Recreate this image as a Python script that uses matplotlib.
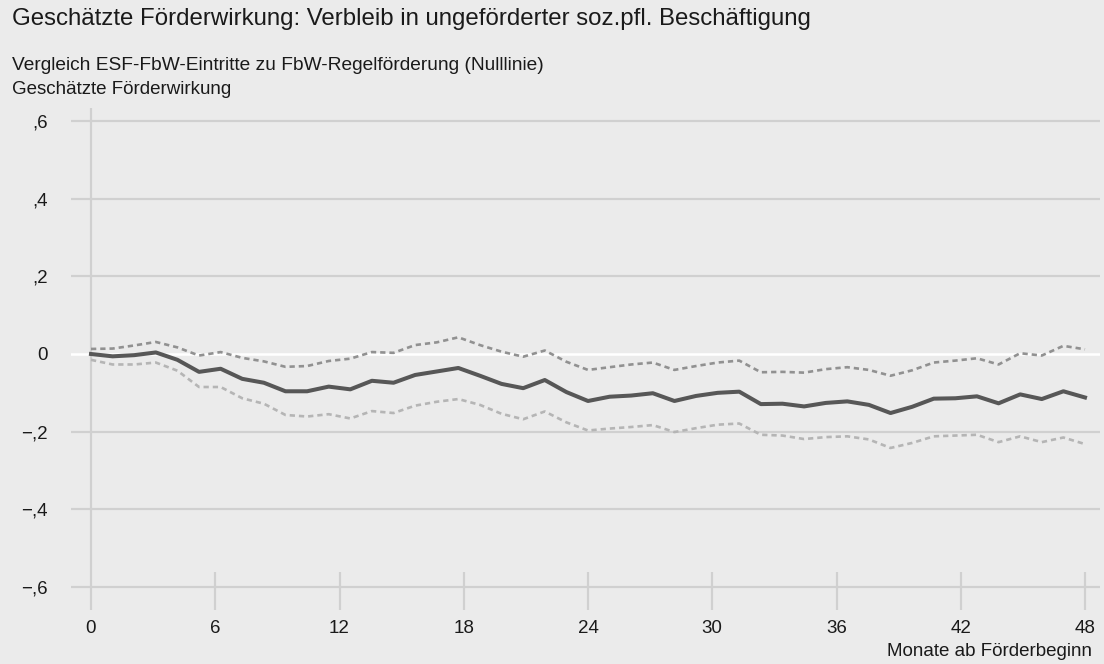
import numpy as np
import matplotlib
matplotlib.use("Agg")
import matplotlib.pyplot as plt

plt.rcParams['font.family'] = ['Liberation Sans', 'DejaVu Sans']

# ---- data ----
title = "Geschätzte Förderwirkung: Verbleib in ungeförderter soz.pfl. Beschäftigung"
subtitle1 = "Vergleich ESF-FbW-Eintritte zu FbW-Regelförderung (Nulllinie)"
subtitle2 = "Geschätzte Förderwirkung"
xlabel = "Monate ab Förderbeginn"

x_ticks = [0, 6, 12, 18, 24, 30, 36, 42, 48]
x_ticklabels = ["0", "6", "12", "18", "24", "30", "36", "42", "48"]
y_ticks = [-0.6, -0.4, -0.2, 0.0, 0.2, 0.4, 0.6]
y_ticklabels = ["\u2212,6", "\u2212,4", "\u2212,2", "0", ",2", ",4", ",6"]

n_points = 47
months = np.linspace(0, 48, n_points)

effect = [0.000, -0.006, -0.003, 0.004, -0.015, -0.046, -0.038, -0.064, -0.074, -0.096,
          -0.096, -0.084, -0.091, -0.069, -0.074, -0.054, -0.045, -0.036, -0.056, -0.077,
          -0.088, -0.067, -0.098, -0.121, -0.110, -0.107, -0.101, -0.121, -0.108, -0.100,
          -0.097, -0.129, -0.128, -0.135, -0.126, -0.122, -0.131, -0.152, -0.136, -0.115,
          -0.114, -0.109, -0.127, -0.104, -0.116, -0.096, -0.112]

upper = [0.013, 0.014, 0.022, 0.031, 0.017, -0.004, 0.005, -0.010, -0.019, -0.033,
         -0.031, -0.018, -0.012, 0.005, 0.003, 0.023, 0.030, 0.043, 0.023, 0.006,
         -0.007, 0.009, -0.020, -0.041, -0.034, -0.027, -0.022, -0.041, -0.031, -0.022,
         -0.017, -0.047, -0.046, -0.048, -0.039, -0.034, -0.041, -0.056, -0.042, -0.022,
         -0.017, -0.011, -0.027, 0.002, -0.004, 0.021, 0.012]

lower = [-0.015, -0.027, -0.027, -0.022, -0.043, -0.085, -0.085, -0.114, -0.128, -0.157,
         -0.161, -0.155, -0.166, -0.147, -0.152, -0.133, -0.123, -0.116, -0.131, -0.154,
         -0.168, -0.148, -0.176, -0.197, -0.192, -0.188, -0.183, -0.201, -0.191, -0.182,
         -0.179, -0.208, -0.210, -0.219, -0.214, -0.212, -0.220, -0.242, -0.229, -0.212,
         -0.210, -0.208, -0.227, -0.212, -0.227, -0.215, -0.232]

# ---- figure ----
W, H = 1104, 664
bg = "#ebebeb"
grid_c = "#d0d0d0"
txt_c = "#1a1a1a"
fig = plt.figure(figsize=(W / 100, H / 100), dpi=100, facecolor=bg)
ax = fig.add_axes([71 / W, (H - 610) / H, (1100 - 71) / W, (610 - 108) / H])
ax.set_facecolor(bg)

ppx = (1085 - 91) / 48.0          # pixels per month
ppy = (587 - 121) / 1.2           # pixels per unit
ax.set_xlim(0 - 20 / ppx, 48 + 15 / ppx)
ax.set_ylim(-0.6 - 23 / ppy, 0.6 + 13 / ppy)

for s in ax.spines.values():
    s.set_visible(False)

# horizontal grid lines
for yv in y_ticks:
    if yv == 0:
        continue
    ax.axhline(yv, color=grid_c, lw=1.6, zorder=1)
ax.axhline(0, color="white", lw=1.8, zorder=2)

# vertical axis line at x=0 and tick marks
ylo, yhi = ax.get_ylim()
ax.vlines(0, ylo, yhi, color=grid_c, lw=1.6, zorder=1)
ax.vlines(x_ticks[1:], -0.6 - 23 / ppy, -0.6 + 15 / ppy, color=grid_c, lw=1.6, zorder=1)

# lines
ax.plot(months, upper, color="#919191", lw=1.9, ls=(0, (2.0, 1.5)), zorder=3)
ax.plot(months, lower, color="#b5b5b5", lw=1.9, ls=(0, (2.0, 1.5)), zorder=3)
ax.plot(months, effect, color="#575757", lw=2.9, zorder=4, solid_joinstyle="round")

ax.set_xticks(x_ticks)
ax.set_xticklabels(x_ticklabels)
ax.set_yticks(y_ticks)
ax.set_yticklabels(y_ticklabels)
ax.tick_params(axis="both", length=0, labelsize=13.5, colors=txt_c)
ax.tick_params(axis="x", pad=7)
ax.tick_params(axis="y", pad=16.5)
for lab in ax.get_yticklabels():
    lab.set_horizontalalignment("right")

fig.text(12 / W, 1 - 19 / H, title, fontsize=17.3, color=txt_c, va="center", ha="left")
fig.text(12 / W, 1 - 66 / H, subtitle1, fontsize=13.8, color=txt_c, va="center", ha="left")
fig.text(12 / W, 1 - 90 / H, subtitle2, fontsize=13.5, color=txt_c, va="center", ha="left")
fig.text(1092 / W, 1 - 652 / H, xlabel, fontsize=13.5, color=txt_c, va="center", ha="right")

fig.savefig("out.png", dpi=100, facecolor=bg)
